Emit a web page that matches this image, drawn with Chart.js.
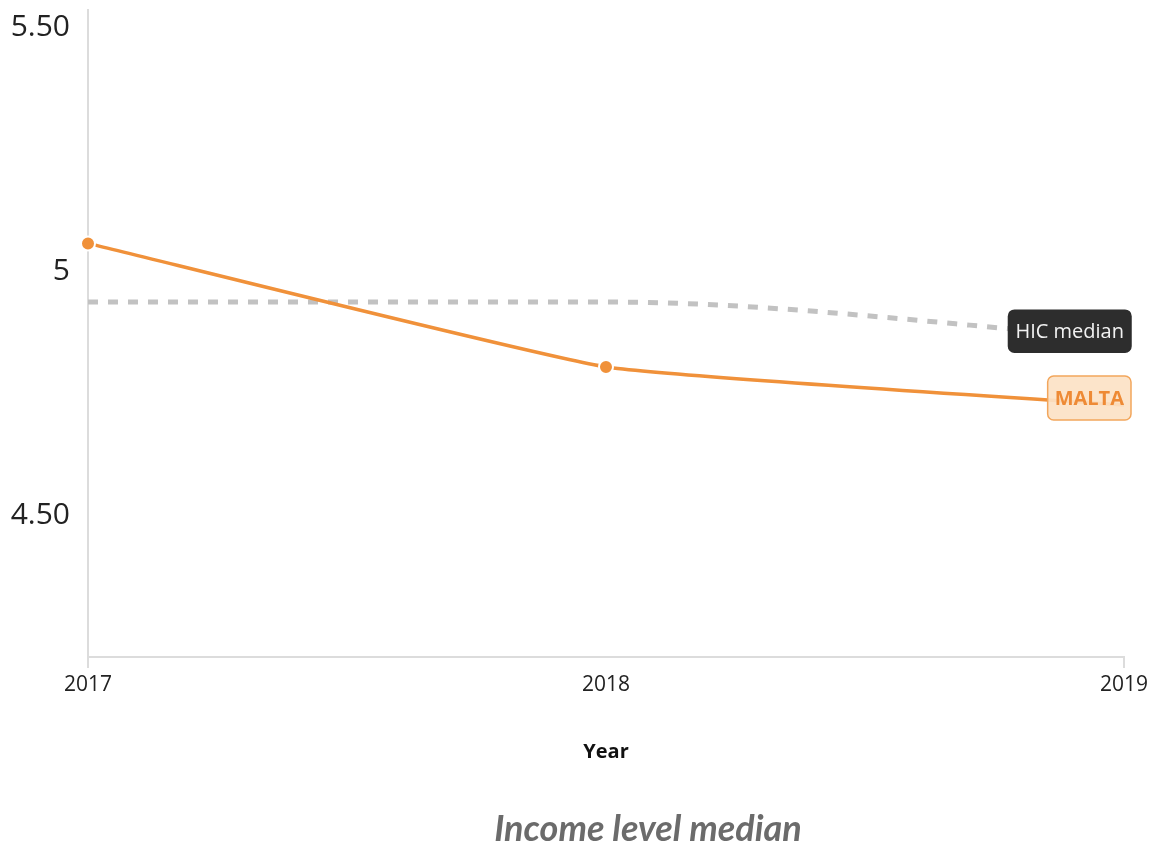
<!DOCTYPE html>
<html>
<head>
<meta charset="utf-8">
<script src="https://cdn.jsdelivr.net/npm/chart.js@4.4.1/dist/chart.umd.min.js"></script>
<style>
  html, body { margin: 0; padding: 0; background: #fff; }
  #wrap { position: relative; width: 1152px; height: 845px; }
</style>
</head>
<body>
<div id="wrap"><canvas id="c" width="1152" height="845"></canvas></div>
<script>
const years = ['2017', '2018', '2019'];
const maltaValues = [5.057, 4.804, 4.726];
const hicMedianValues = [4.937, 4.937, 4.863];
const yTickValues = [4.5, 5, 5.5];
const yTickLabels = ['4.50', '5', '5.50'];
const seriesNames = ['MALTA', 'HIC median'];
const xAxisTitle = 'Year';
const chartTitle = 'Income level median';

const ORANGE = '#f0913a';

const endLabels = {
  id: 'endLabels',
  afterDatasetsDraw(chart) {
    const ctx = chart.ctx;
    const specs = [
      { ds: 1, text: seriesNames[1], font: '20px "Open Sans"', fill: '#2d2d2d', stroke: '#2d2d2d', color: '#f2f2f2', h: 42 },
      { ds: 0, text: seriesNames[0], font: 'bold 20px "Open Sans"', fill: 'rgba(252,226,198,0.92)', stroke: '#f2a65c', color: '#ee8a35', h: 44 }
    ];
    specs.forEach(s => {
      const meta = chart.getDatasetMeta(s.ds);
      const pt = meta.data[meta.data.length - 1];
      ctx.save();
      ctx.font = s.font;
      const w = ctx.measureText(s.text).width + 14;
      const right = pt.x + 7;
      const cy = pt.y - 7;
      const x = right - w, y = cy - s.h / 2;
      ctx.beginPath();
      ctx.roundRect(x, y, w, s.h, 6);
      ctx.fillStyle = s.fill;
      ctx.fill();
      ctx.lineWidth = 1.5;
      ctx.strokeStyle = s.stroke;
      ctx.stroke();
      ctx.fillStyle = s.color;
      ctx.textAlign = 'center';
      ctx.textBaseline = 'middle';
      ctx.fillText(s.text, x + w / 2, cy + 1);
      ctx.restore();
    });
  }
};

const bottomTitle = {
  id: 'bottomTitle',
  afterDraw(chart) {
    const ctx = chart.ctx;
    ctx.save();
    ctx.font = 'italic bold 36px Lato';
    ctx.fillStyle = '#6b6b6b';
    ctx.textAlign = 'center';
    ctx.textBaseline = 'middle';
    ctx.fillText(chartTitle, 648, 829);
    ctx.restore();
  }
};

new Chart(document.getElementById('c'), {
  type: 'line',
  data: {
    labels: years,
    datasets: [
      {
        label: seriesNames[0],
        data: maltaValues,
        borderColor: ORANGE,
        backgroundColor: ORANGE,
        borderWidth: 3.5,
        pointRadius: [7, 7, 0],
        pointBackgroundColor: ORANGE,
        pointBorderColor: '#ffffff',
        pointBorderWidth: 2,
        tension: 0.12,
        order: 1
      },
      {
        label: seriesNames[1],
        data: hicMedianValues,
        borderColor: '#c2c2c2',
        borderWidth: 5,
        borderDash: [10, 10],
        pointRadius: 0,
        cubicInterpolationMode: 'monotone',
        order: 2
      }
    ]
  },
  options: {
    responsive: false,
    animation: false,
    layout: { padding: { top: 10, right: 28, left: 0, bottom: 0 } },
    plugins: { legend: { display: false }, tooltip: { enabled: false }, title: { display: false } },
    scales: {
      x: {
        type: 'category',
        offset: false,
        grid: {
          drawOnChartArea: false,
          drawTicks: true,
          tickLength: 11,
          color: (c) => (c.index === 1 ? 'rgba(0,0,0,0)' : '#dcdcdc'),
          lineWidth: 2
        },
        border: { display: true, color: '#dcdcdc', width: 2 },
        ticks: { font: { family: 'Open Sans', size: 21 }, color: '#222', padding: 4, maxRotation: 0 },
        title: {
          display: true,
          text: xAxisTitle,
          font: { family: 'Open Sans', size: 20, weight: 'bold' },
          color: '#111',
          padding: { top: 0, bottom: 81 }
        },
        afterFit: (s) => { s.height = 188; s.paddingLeft = 0; s.paddingRight = 0; }
      },
      y: {
        min: 4.21,
        max: 5.535,
        grid: { display: false, drawTicks: false },
        border: { display: true, color: '#dcdcdc', width: 2 },
        afterBuildTicks: (s) => { s.ticks = yTickValues.map(v => ({ value: v })); },
        ticks: {
          font: { family: 'Open Sans', size: 30 },
          color: '#222',
          padding: 18,
          callback: (v) => yTickLabels[yTickValues.indexOf(v)]
        },
        afterFit: (s) => { s.width = 88; s.paddingTop = 0; s.paddingBottom = 0; }
      }
    }
  },
  plugins: [endLabels, bottomTitle]
});
</script>
</body>
</html>
